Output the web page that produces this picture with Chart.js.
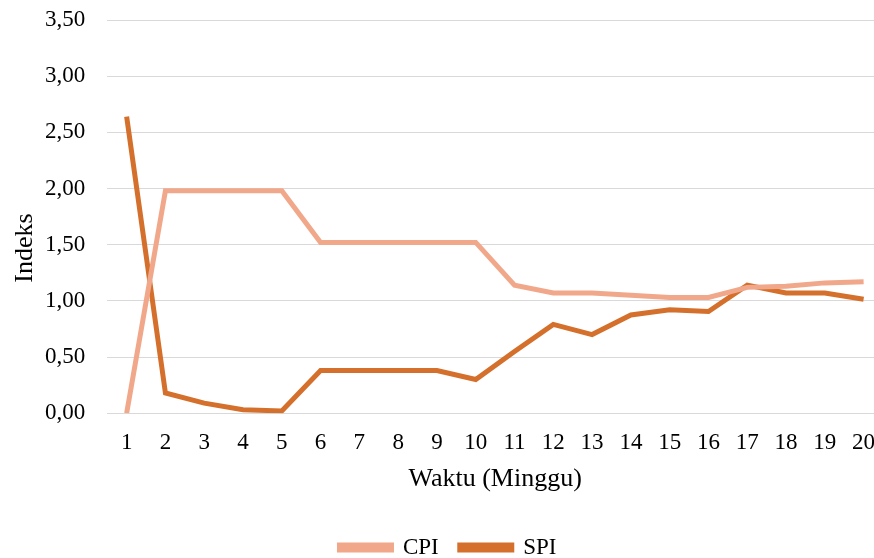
<!DOCTYPE html>
<html>
<head>
<meta charset="utf-8">
<script src="https://cdn.jsdelivr.net/npm/chart.js@4/dist/chart.umd.min.js"></script>
<style>
  html, body { margin: 0; padding: 0; background: #fff; overflow: hidden; }
  #wrap { width: 893px; height: 558px; position: relative; }
</style>
</head>
<body>
<div id="wrap"><canvas id="c"></canvas></div>
<script>
// Weekly performance indices (minggu 1..20)
const weeks = ['1','2','3','4','5','6','7','8','9','10','11','12','13','14','15','16','17','18','19','20'];
const cpi = [0.00, 1.98, 1.98, 1.98, 1.98, 1.52, 1.52, 1.52, 1.52, 1.52, 1.14, 1.07, 1.07, 1.05, 1.03, 1.03, 1.12, 1.13, 1.16, 1.17];
const spi = [2.64, 0.18, 0.09, 0.03, 0.02, 0.38, 0.38, 0.38, 0.38, 0.30, 0.55, 0.79, 0.70, 0.875, 0.92, 0.905, 1.14, 1.07, 1.07, 1.015];
const yTicks = [0, 0.5, 1, 1.5, 2, 2.5, 3, 3.5];
const yTitle = 'Indeks';

const serif = 'Liberation Serif, "Times New Roman", serif';

const axisTitlePlugin = {
  id: 'yTitle',
  afterLayout(chart) {
    // nudge the legend row slightly to the left
    if (chart.legend) { chart.legend.left -= 5; chart.legend.right -= 5; }
  },
  afterDraw(chart) {
    // vertical axis title, placed a little below the middle of the plot
    const { ctx, chartArea } = chart;
    ctx.save();
    ctx.translate(25, chartArea.top + (chartArea.bottom - chartArea.top) * 0.58);
    ctx.rotate(-Math.PI / 2);
    ctx.font = '26px ' + serif;
    ctx.fillStyle = '#000';
    ctx.textAlign = 'center';
    ctx.textBaseline = 'middle';
    ctx.fillText(yTitle, 0, 0);
    ctx.restore();
  }
};

new Chart(document.getElementById('c'), {
  type: 'line',
  data: {
    labels: weeks,
    datasets: [
      { label: 'CPI', data: cpi, borderColor: '#F1A88A', backgroundColor: '#F1A88A', borderWidth: 5, pointRadius: 0, tension: 0 },
      { label: 'SPI', data: spi, borderColor: '#D4702C', backgroundColor: '#D4702C', borderWidth: 5, pointRadius: 0, tension: 0 }
    ]
  },
  plugins: [axisTitlePlugin],
  options: {
    responsive: true,
    maintainAspectRatio: false,
    animation: false,
    layout: { padding: { left: 23, right: 10, top: 0, bottom: -11 } },
    plugins: {
      legend: {
        position: 'bottom',
        labels: {
          font: { family: serif, size: 23 },
          color: '#000',
          boxWidth: 52,
          boxHeight: 5,
          padding: 21
        }
      },
      tooltip: { enabled: false }
    },
    scales: {
      x: {
        offset: true,
        grid: { display: false },
        border: { display: false },
        ticks: { font: { family: serif, size: 23 }, color: '#000', padding: 8, maxRotation: 0, autoSkip: false },
        title: { display: true, text: 'Waktu (Minggu)', font: { family: serif, size: 26 }, color: '#000', padding: { top: -1, bottom: 20 } }
      },
      y: {
        min: 0,
        max: 3.5,
        afterBuildTicks: (axis) => { axis.ticks = yTicks.map(v => ({ value: v })); },
        afterFit: (axis) => { axis.paddingTop = 20; },
        grid: { color: '#D9D9D9', lineWidth: 1, drawTicks: false },
        border: { display: false },
        ticks: {
          font: { family: serif, size: 23 },
          color: '#000',
          padding: 22,
          callback: (v) => Number(v).toFixed(2).replace('.', ',')
        },
        title: { display: false }
      }
    }
  }
});
</script>
</body>
</html>
